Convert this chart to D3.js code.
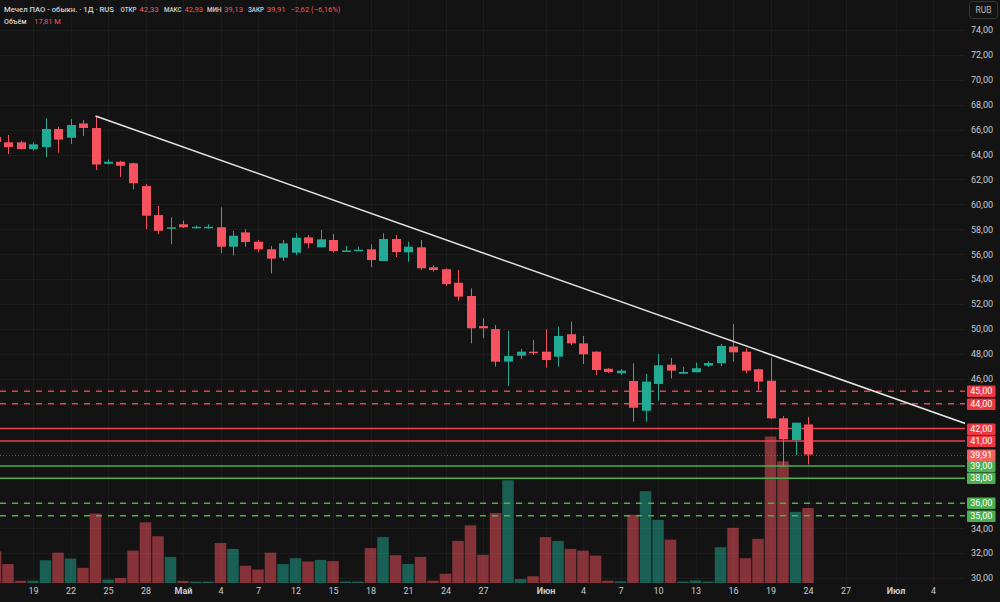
<!DOCTYPE html>
<html>
<head>
<meta charset="utf-8">
<script src="https://cdn.jsdelivr.net/npm/d3@7"></script>
<style>
	html, body { margin: 0; padding: 0; background: #131313; overflow: hidden; }
	svg { display: block; font-family: Roboto, "Noto Sans", sans-serif; }
</style>
</head>
<body>
<div class="canva"></div>
<script>
// bar 0 = 16 Apr (only the edge of its volume bar shows), bar 65 = 24 Jun
const opens = [65.4, 64.98, 64.98, 64.44, 64.6, 66.05, 65.35, 66.5, 66.13, 63.26, 63.42, 63.3, 61.47, 59.14, 58.08, 58.4, 58.14, 58.14, 58.16, 56.6, 57.75, 57.0, 56.39, 55.72, 56.12, 57.35, 56.55, 57.14, 56.25, 56.28, 56.39, 55.45, 57.22, 56.15, 56.55, 54.95, 54.79, 53.71, 52.64, 50.23, 49.99, 47.37, 47.85, 48.17, 48.17, 47.77, 49.57, 48.84, 48.17, 46.8, 46.44, 45.82, 43.43, 45.58, 47.13, 46.4, 46.52, 47.05, 47.24, 48.58, 48.17, 46.76, 45.84, 42.82, 41.08, 42.33];
const highs = [65.7, 65.57, 65.1, 64.98, 66.9, 66.24, 66.85, 66.77, 67.1, 63.6, 63.5, 63.35, 61.63, 59.87, 58.96, 58.7, 58.3, 58.4, 59.76, 57.86, 58.0, 57.14, 56.66, 57.14, 57.68, 57.54, 57.94, 57.62, 56.66, 56.6, 56.79, 57.68, 57.54, 57.0, 57.14, 55.1, 54.87, 54.73, 53.26, 50.85, 50.31, 49.85, 48.4, 49.1, 49.97, 50.18, 50.58, 49.43, 48.2, 46.85, 46.78, 47.24, 46.38, 48.0, 47.66, 46.95, 47.29, 47.4, 48.79, 50.39, 48.44, 46.8, 47.72, 43.0, 42.47, 42.93];
const lows = [64.8, 64.04, 64.4, 64.3, 63.8, 64.15, 64.85, 65.5, 62.76, 63.2, 62.2, 61.2, 58.0, 57.62, 56.8, 58.1, 58.05, 58.05, 56.07, 55.9, 56.6, 56.15, 54.46, 55.45, 55.93, 56.47, 56.55, 56.12, 56.25, 56.25, 54.95, 55.45, 55.77, 55.4, 54.73, 54.6, 53.45, 52.27, 48.84, 49.25, 46.97, 45.42, 47.6, 47.9, 46.89, 46.97, 48.71, 47.18, 46.3, 46.45, 46.3, 42.55, 42.55, 44.24, 46.03, 46.37, 46.52, 46.95, 47.02, 47.37, 46.44, 45.1, 42.77, 38.9, 39.88, 39.13];
const closes = [65.0, 64.6, 64.44, 64.82, 66.05, 65.2, 66.37, 66.13, 63.2, 63.42, 63.1, 61.7, 59.09, 57.88, 58.16, 58.16, 58.2, 58.2, 56.6, 57.48, 56.98, 56.39, 55.64, 56.87, 57.32, 56.87, 57.19, 56.25, 56.3, 56.36, 55.53, 57.22, 56.17, 56.6, 54.87, 54.73, 53.6, 52.59, 50.05, 50.05, 47.37, 47.82, 48.17, 48.07, 47.5, 49.43, 48.84, 47.96, 46.7, 46.54, 46.65, 43.67, 45.77, 47.08, 46.65, 46.54, 46.84, 47.26, 48.63, 48.12, 46.65, 45.77, 42.82, 41.14, 42.47, 39.91];
// millions of shares
const volumes = [7.5, 4.5, 0.55, 0.55, 5.4, 7.2, 5.8, 3.6, 16.5, 0.8, 1.2, 7.7, 14.4, 11.1, 6.2, 0.5, 0.35, 0.35, 9.5, 8.1, 4.1, 3.2, 7.2, 4.5, 5.9, 5.1, 5.5, 5.2, 0.35, 0.35, 8.3, 10.9, 6.6, 4.5, 6.2, 0.55, 2.2, 10.0, 13.7, 6.7, 16.6, 24.4, 0.95, 1.6, 10.9, 10.0, 8.1, 7.7, 6.5, 0.55, 0.4, 16.2, 21.8, 15.0, 10.3, 0.35, 0.6, 0.35, 8.5, 13.1, 5.9, 10.5, 34.8, 28.9, 16.9, 17.81];

const tickBars = [3, 6, 9, 12, 15, 18, 21, 24, 27, 30, 33, 36, 39, 44, 47, 50, 53, 56, 59, 62, 65, 68, 72, 75];
const tickLabels = ["19", "22", "25", "28", "Май", "4", "7", "12", "15", "18", "21", "24", "27", "Июн", "4", "7", "10", "13", "16", "19", "24", "27", "Июл", "4"];
const monthLabels = ["Май", "Июн", "Июл"];

const priceTicks = d3.range(30, 75, 2);
const resistanceDashed = [45, 44];
const resistanceSolid = [42, 41];
const supportSolid = [39, 38];
const supportDashed = [36, 35];
const lastClose = 39.91;
const trendBars = [8, 77.6];
const trendPrices = [67.1, 42.4];

// legend text pieces (even ones after the title are values)
const headerText = ["Мечел ПАО - обыкн. · 1Д · RUS", "ОТКР", "42,33", "МАКС", "42,93", "МИН", "39,13", "ЗАКР", "39,91", "−2,62 (−6,16%)"];
const headerX = [4, 120.5, 139.3, 164, 184.6, 207, 224, 248, 266.7, 290.5];
const headerW = [110, 16, 19.5, 17.5, 18.5, 14.5, 19, 16, 19, 50];
const volumeText = ["Объём", "17,81 M"];
const volumeX = [4, 34.3];
const volumeW = [22.5, 26.5];

const width = 1000, height = 602;
const plotRight = 965, plotBottom = 583;
const red = "#f7525f", green = "#22ab94";
const lvlRed = "#e8414b", lvlGreen = "#4caf50";

const svg = d3.select(".canva")
	.append("svg")
	.attr("width", width)
	.attr("height", height);

svg.append("rect").attr("width", width).attr("height", height).attr("fill", "#131313");

const x = d3.scaleLinear().domain([0, 75]).range([-4.5, 933]);
const y = d3.scaleLinear().domain([30, 74]).range([578, 30]);
const yVol = d3.scaleLinear().domain([0, 40]).range([plotBottom, plotBottom - 168.4]);
const step = x(1) - x(0);
const py = v => Math.round(y(v)) + 0.5;

svg.append("clipPath").attr("id", "plot")
	.append("rect").attr("x", 0).attr("y", 0).attr("width", plotRight).attr("height", plotBottom);

const plot = svg.append("g").attr("clip-path", "url(#plot)");

// grid
plot.selectAll("line.hgrid").data(priceTicks).enter().append("line")
	.attr("x1", 0).attr("x2", plotRight)
	.attr("y1", py).attr("y2", py)
	.attr("stroke", "#1c1c1c");
plot.selectAll("line.vgrid").data(tickBars).enter().append("line")
	.attr("x1", d => Math.round(x(d)) + 0.5).attr("x2", d => Math.round(x(d)) + 0.5)
	.attr("y1", 0).attr("y2", plotBottom)
	.attr("stroke", "#1c1c1c");

const bars = d3.range(opens.length);
const up = i => closes[i] >= opens[i];

// volume
plot.selectAll("rect.vol").data(bars).enter().append("rect")
	.attr("x", i => x(i) - step / 2 + 0.5)
	.attr("width", step - 1)
	.attr("y", i => yVol(volumes[i]))
	.attr("height", i => plotBottom - yVol(volumes[i]))
	.attr("fill", i => up(i) ? green : red)
	.attr("fill-opacity", 0.5);

// levels
function levelLines(values, color, dashed) {
	plot.selectAll(null).data(values).enter().append("line")
		.attr("x1", 0).attr("x2", plotRight)
		.attr("y1", d => y(d)).attr("y2", d => y(d))
		.attr("stroke", color)
		.attr("stroke-width", 1.5)
		.attr("stroke-dasharray", dashed ? "6,6" : null);
}
levelLines(resistanceDashed, lvlRed, true);
levelLines(resistanceSolid, lvlRed, false);
levelLines(supportSolid, lvlGreen, false);
levelLines(supportDashed, lvlGreen, true);

plot.append("line")
	.attr("x1", 0).attr("x2", plotRight)
	.attr("y1", py(lastClose)).attr("y2", py(lastClose))
	.attr("stroke", red).attr("stroke-opacity", 0.6)
	.attr("stroke-dasharray", "1,2");

// candles
const candle = plot.selectAll("g.candle").data(bars).enter().append("g");
candle.append("line")
	.attr("x1", i => Math.round(x(i)) + 0.5).attr("x2", i => Math.round(x(i)) + 0.5)
	.attr("y1", i => y(highs[i])).attr("y2", i => y(lows[i]))
	.attr("stroke", i => up(i) ? green : red)
	.attr("stroke-width", 1);
candle.append("rect")
	.attr("x", i => Math.round(x(i)) + 0.5 - 4.5)
	.attr("width", 9)
	.attr("y", i => y(Math.max(opens[i], closes[i])))
	.attr("height", i => Math.max(1.5, Math.abs(y(opens[i]) - y(closes[i]))))
	.attr("fill", i => up(i) ? green : red);

// trendline
plot.append("line")
	.attr("x1", x(trendBars[0])).attr("y1", y(trendPrices[0]))
	.attr("x2", x(trendBars[1])).attr("y2", y(trendPrices[1]))
	.attr("stroke", "#e6e6e6")
	.attr("stroke-width", 1.5);

// price axis
const levelAll = resistanceDashed.concat(resistanceSolid, supportSolid, supportDashed, [lastClose]);
const fmt = d => d.toFixed(2).replace(".", ",");
const yAxis = d3.axisRight(y)
	.tickValues(priceTicks.filter(t => levelAll.every(l => Math.abs(y(l) - y(t)) > 9)))
	.tickFormat(fmt)
	.tickSize(0)
	.tickPadding(0);
const ya = svg.append("g").attr("transform", `translate(982,0)`).call(yAxis);
ya.select(".domain").remove();
ya.selectAll("text")
	.attr("text-anchor", "middle")
	.attr("fill", "#c9ccd3")
	.style("font-size", "9px")
	.style("font-family", "Roboto, 'Noto Sans', sans-serif");

function levelBoxes(values, color) {
	const g = svg.selectAll(null).data(values).enter().append("g")
		.attr("transform", d => `translate(0,${Math.round(y(d))})`);
	g.append("rect")
		.attr("x", 967).attr("y", -5.5).attr("width", 28.5).attr("height", 11.5)
		.attr("rx", 1)
		.attr("fill", color);
	g.append("text")
		.attr("x", 981.3).attr("y", 3.3)
		.attr("text-anchor", "middle")
		.attr("fill", "#ffffff")
		.style("font-size", "9px")
		.text(fmt);
}
levelBoxes(resistanceDashed.concat(resistanceSolid), "#ea3943");
levelBoxes(supportSolid.concat(supportDashed), lvlGreen);
levelBoxes([lastClose], "#ee6360");

// time axis
const xAxis = d3.axisBottom(x)
	.tickValues(tickBars)
	.tickFormat((d, i) => tickLabels[i])
	.tickSize(0)
	.tickPadding(0);
const xa = svg.append("g").attr("transform", `translate(0,588)`).call(xAxis);
xa.select(".domain").remove();
xa.selectAll("text")
	.attr("fill", "#c9ccd3")
	.style("font-size", "9px")
	.style("font-weight", (d, i) => monthLabels.includes(tickLabels[i]) ? "700" : "400")
	.style("font-family", "Roboto, 'Noto Sans', sans-serif");

// legend
const isVal = i => (i > 0 && i % 2 === 0) || i === 9;
svg.selectAll("text.head").data(headerText).enter().append("text")
	.attr("x", (d, i) => headerX[i]).attr("y", 12)
	.attr("textLength", (d, i) => headerW[i])
	.attr("lengthAdjust", "spacingAndGlyphs")
	.attr("fill", (d, i) => isVal(i) ? red : "#d1d4dc")
	.style("font-size", (d, i) => isVal(i) || i === 0 ? "8px" : "7px")
	.style("font-weight", (d, i) => isVal(i) ? "400" : "500")
	.text(d => d);
svg.selectAll("text.vol").data(volumeText).enter().append("text")
	.attr("x", (d, i) => volumeX[i]).attr("y", 24)
	.attr("textLength", (d, i) => volumeW[i])
	.attr("lengthAdjust", "spacingAndGlyphs")
	.attr("fill", (d, i) => i === 1 ? red : "#d1d4dc")
	.style("font-size", "8px")
	.style("font-weight", (d, i) => i === 1 ? "400" : "500")
	.text(d => d);

// currency button
svg.append("rect")
	.attr("x", 969.5).attr("y", 1.5).attr("width", 28).attr("height", 17).attr("rx", 3)
	.attr("fill", "#131313").attr("stroke", "#363636");
svg.append("text")
	.attr("x", 983.5).attr("y", 13)
	.attr("text-anchor", "middle")
	.attr("fill", "#b0b3ba")
	.style("font-size", "8.5px")
	.text("RUB");
</script>
</body>
</html>
